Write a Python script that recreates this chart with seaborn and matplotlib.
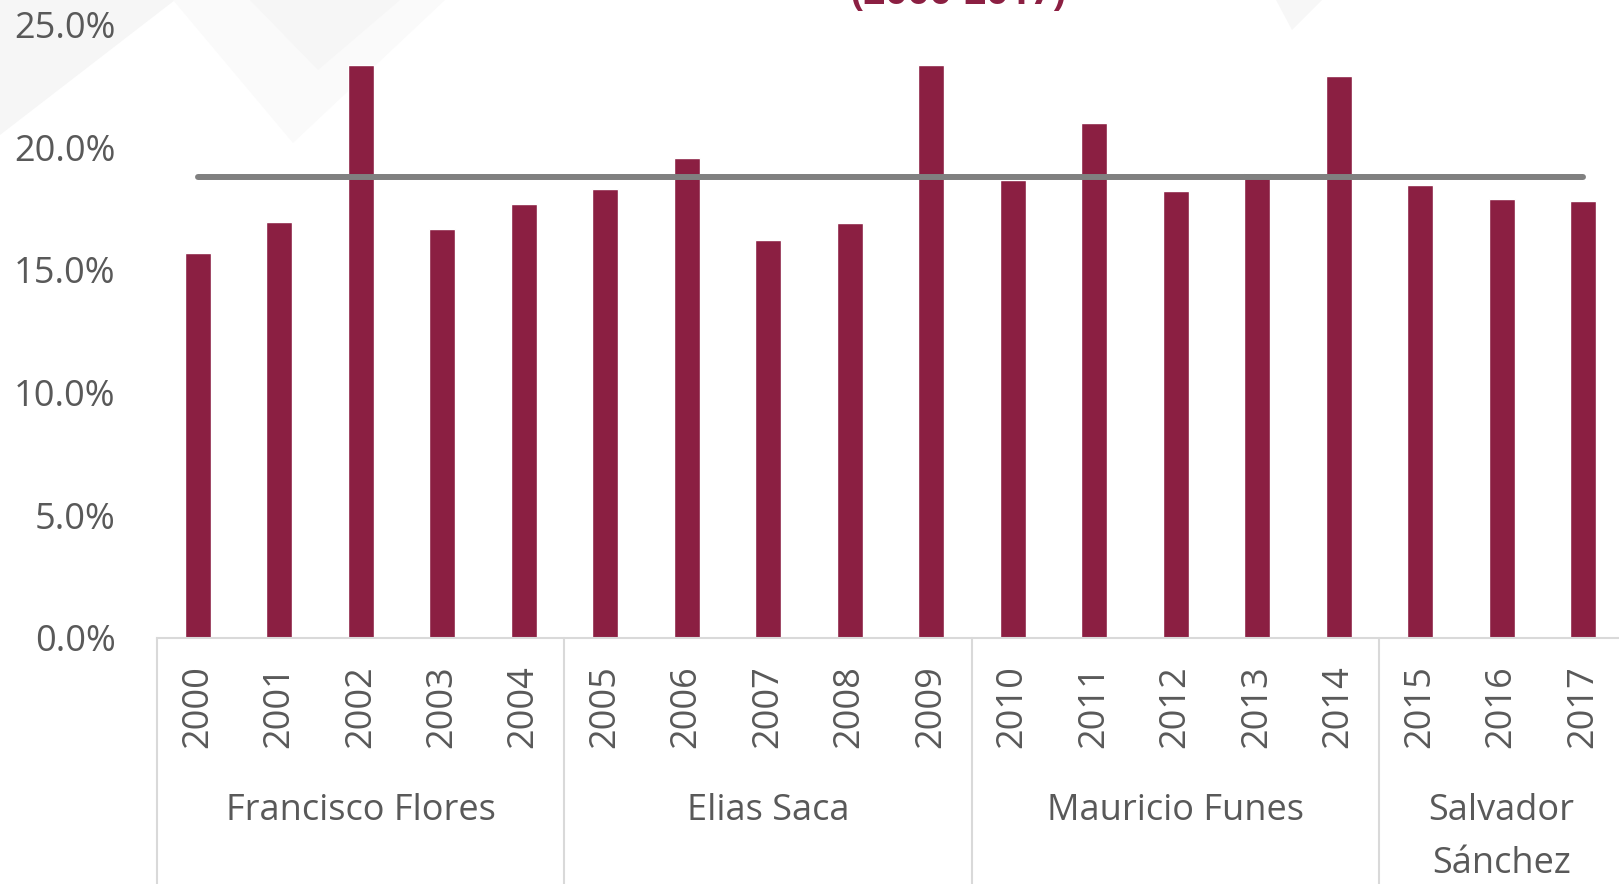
import numpy as np
import matplotlib
matplotlib.use("Agg")
import matplotlib.pyplot as plt
import matplotlib.transforms as mtransforms
from matplotlib.patches import Polygon
from matplotlib.ticker import PercentFormatter
import seaborn as sns

# Datos
anios = ["2000", "2001", "2002", "2003", "2004", "2005", "2006", "2007", "2008",
         "2009", "2010", "2011", "2012", "2013", "2014", "2015", "2016", "2017"]
valores = [15.7, 16.95, 23.35, 16.65, 17.7, 18.3, 19.55, 16.2, 16.9,
           23.35, 18.65, 21.0, 18.2, 18.95, 22.9, 18.45, 17.9, 17.8]
promedio = 18.8
gobiernos = ["Francisco Flores", "Elias Saca", "Mauricio Funes", "Salvador\nSánchez"]
anios_por_gobierno = [5, 5, 5, 3]

vino = "#8B1F42"
gris_texto = "#595959"
gris_linea = "#D9D9D9"

sns.set_style("white")
plt.rcParams["font.family"] = ["Open Sans", "DejaVu Sans"]

fig = plt.figure(figsize=(16.19, 8.84), dpi=100)
ax = fig.add_axes([0.097, 0.2786, 0.906, 0.6937])
ax.set_facecolor("none")

# marca de agua tenue del fondo
W, H = 1619, 884
def px(puntos):
    return [(x / W, 1 - y / H) for x, y in puntos]

for pts, col in [
    ([(0, 0), (175, 0), (0, 135)], "#F6F6F6"),
    ([(173, 0), (445, 0), (293, 143)], "#FAFAFA"),
    ([(250, 0), (400, 0), (318, 70)], "#F6F6F6"),
    ([(1276, 0), (1322, 0), (1292, 30)], "#F7F7F7"),
]:
    fig.add_artist(Polygon(px(pts), closed=True, facecolor=col, edgecolor="none",
                           transform=fig.transFigure, zorder=-10))

sns.barplot(x=anios, y=valores, color=vino, width=0.32, saturation=1, ax=ax, zorder=2)

pos = np.arange(len(anios))
sns.lineplot(x=pos, y=[promedio] * len(anios), color="#808080", linewidth=4.3,
             ax=ax, zorder=3, solid_capstyle="round")

ax.set_ylim(0, 25)
ax.set_xlim(-0.5, len(anios) - 0.5)
ax.set_yticks([0, 5, 10, 15, 20, 25])
ax.yaxis.set_major_formatter(PercentFormatter(decimals=1))
ax.set_xticks(pos)
ax.set_xticklabels(anios, rotation=90)
ax.tick_params(axis="y", length=0, pad=30, labelsize=26, labelcolor=gris_texto)
ax.tick_params(axis="x", length=0, pad=20, labelsize=26, labelcolor=gris_texto)
ax.set_xlabel("")
ax.set_ylabel("")

for lado in ["left", "right", "top"]:
    ax.spines[lado].set_visible(False)
ax.spines["bottom"].set_color(gris_linea)
ax.spines["bottom"].set_linewidth(1.5)

# eje de dos niveles: separadores y nombres
trans = mtransforms.blended_transform_factory(ax.transData, ax.transAxes)
trans_fig = mtransforms.blended_transform_factory(ax.transData, fig.transFigure)
inicio = 0
for nombre, n in zip(gobiernos, anios_por_gobierno):
    ax.plot([inicio - 0.5, inicio - 0.5], [0, -0.5], transform=trans,
            color=gris_linea, linewidth=1.5, clip_on=False)
    centro = inicio + (n - 1) / 2
    for i, linea in enumerate(nombre.split("\n")):
        fig.text(centro, 1 - (820 + 53 * i) / H, linea, fontsize=26, color=gris_texto,
                 ha="center", va="baseline", transform=trans_fig)
    inicio += n

fig.text(0.592, 1 - 4 / H, "(2000-2017)", fontsize=28, color=vino,
         fontweight="bold", ha="center", va="baseline")

fig.savefig("out.png", dpi=100)
